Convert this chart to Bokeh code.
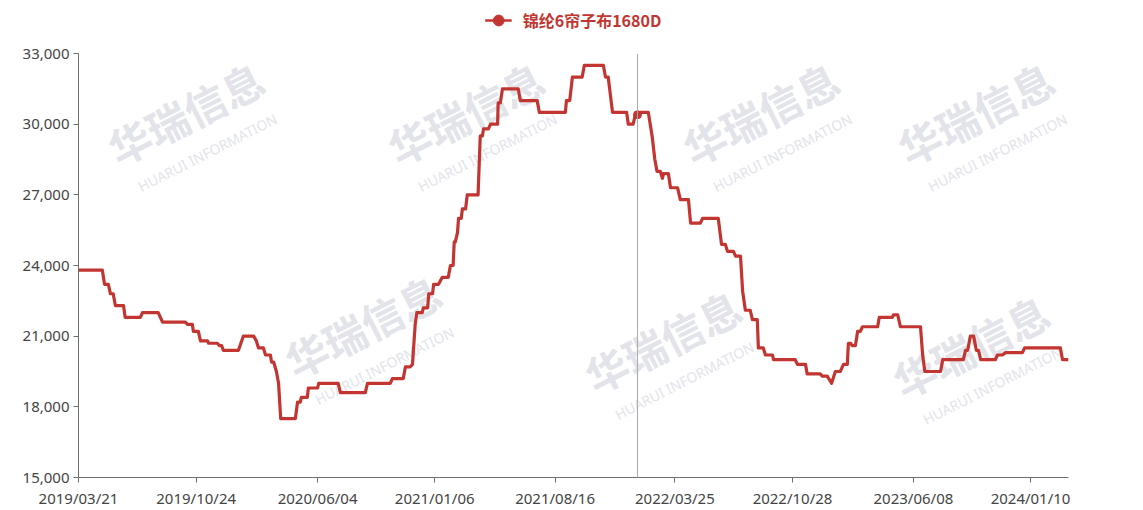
import pandas as pd
from bokeh.plotting import figure
from bokeh.layouts import column
from bokeh.models import (ColumnDataSource, Range1d, FixedTicker, DatetimeTickFormatter,
                          NumeralTickFormatter, Span, Legend, LegendItem, Label)
from bokeh.embed import file_html
from bokeh.resources import INLINE

series_name = "锦纶6帘子布1680D"

dates = [
    "2019-03-21", "2019-05-04", "2019-05-08", "2019-05-15", "2019-05-19", "2019-05-24",
    "2019-05-28", "2019-06-12", "2019-06-15", "2019-07-13", "2019-07-17", "2019-08-15",
    "2019-08-23", "2019-10-04", "2019-10-08", "2019-10-17", "2019-10-19", "2019-10-28",
    "2019-11-01", "2019-11-14", "2019-11-16", "2019-12-02", "2019-12-06", "2019-12-10",
    "2019-12-13", "2020-01-10", "2020-01-19", "2020-02-07", "2020-02-12", "2020-02-16",
    "2020-02-25", "2020-02-29", "2020-03-09", "2020-03-11", "2020-03-15", "2020-03-20",
    "2020-03-24", "2020-03-28", "2020-04-24", "2020-04-28", "2020-05-03", "2020-05-05",
    "2020-05-16", "2020-05-18", "2020-06-04", "2020-06-06", "2020-07-12", "2020-07-16",
    "2020-08-31", "2020-09-04", "2020-10-16", "2020-10-20", "2020-11-09", "2020-11-13",
    "2020-11-22", "2020-11-26", "2020-12-01", "2020-12-04", "2020-12-14", "2020-12-16",
    "2020-12-24", "2020-12-26", "2021-01-02", "2021-01-04", "2021-01-13", "2021-01-20",
    "2021-01-31", "2021-02-04", "2021-02-09", "2021-02-11", "2021-02-13", "2021-02-17",
    "2021-02-19", "2021-02-24", "2021-02-26", "2021-03-04", "2021-03-07", "2021-03-27",
    "2021-03-31", "2021-04-04", "2021-04-06", "2021-04-15", "2021-04-19", "2021-05-02",
    "2021-05-03", "2021-05-07", "2021-05-11", "2021-06-09", "2021-06-13", "2021-07-14",
    "2021-07-18", "2021-09-04", "2021-09-06", "2021-09-12", "2021-09-17", "2021-10-05",
    "2021-10-09", "2021-11-13", "2021-11-17", "2021-11-22", "2021-11-30", "2021-12-26",
    "2021-12-29", "2022-01-07", "2022-01-11", "2022-01-20", "2022-02-04", "2022-02-11",
    "2022-02-16", "2022-02-20", "2022-02-26", "2022-03-02", "2022-03-04", "2022-03-13",
    "2022-03-17", "2022-03-30", "2022-04-02", "2022-04-04", "2022-04-19", "2022-04-23",
    "2022-05-11", "2022-05-15", "2022-06-13", "2022-06-19", "2022-06-26", "2022-06-30",
    "2022-07-11", "2022-07-15", "2022-07-24", "2022-07-28", "2022-08-02", "2022-08-11",
    "2022-08-15", "2022-08-24", "2022-08-26", "2022-09-04", "2022-09-08", "2022-09-21",
    "2022-09-23", "2022-11-02", "2022-11-06", "2022-11-21", "2022-11-24", "2022-12-18",
    "2022-12-22", "2022-12-31", "2023-01-08", "2023-01-15", "2023-01-24", "2023-01-30",
    "2023-02-06", "2023-02-08", "2023-02-12", "2023-02-15", "2023-02-21", "2023-02-25",
    "2023-03-02", "2023-03-06", "2023-04-03", "2023-04-06", "2023-04-30", "2023-05-02",
    "2023-05-10", "2023-05-15", "2023-06-21", "2023-06-25", "2023-06-29", "2023-07-28",
    "2023-08-01", "2023-09-08", "2023-09-12", "2023-09-16", "2023-09-21", "2023-09-27",
    "2023-10-02", "2023-10-06", "2023-10-10", "2023-11-06", "2023-11-10", "2023-11-19",
    "2023-11-25", "2023-12-26", "2023-12-30", "2024-03-05", "2024-03-09", "2024-03-20",
]

prices = [
    23800, 23800, 23200, 23200, 22800, 22800,
    22300, 22300, 21800, 21800, 22000, 22000,
    21600, 21600, 21500, 21500, 21200, 21200,
    20800, 20800, 20700, 20700, 20600, 20600,
    20400, 20400, 21000, 21000, 20800, 20500,
    20500, 20200, 20200, 19900, 19900, 19500,
    19000, 17500, 17500, 18200, 18200, 18400,
    18400, 18800, 18800, 19000, 19000, 18600,
    18600, 19000, 19000, 19200, 19200, 19700,
    19700, 19800, 21500, 22000, 22000, 22200,
    22200, 22800, 22800, 23200, 23200, 23500,
    23500, 24000, 24000, 25000, 25000, 25400,
    26000, 26000, 26400, 26400, 27000, 27000,
    29500, 29500, 29800, 29800, 30000, 30000,
    30900, 30900, 31500, 31500, 31000, 31000,
    30500, 30500, 31000, 31000, 32000, 32000,
    32500, 32500, 32000, 32000, 30500, 30500,
    30000, 30000, 30400, 30500, 30500, 29500,
    28500, 28000, 28000, 27700, 27900, 27900,
    27300, 27300, 27000, 26800, 26800, 25800,
    25800, 26000, 26000, 24900, 24900, 24600,
    24600, 24400, 24400, 22900, 22100, 22100,
    21700, 21700, 20500, 20500, 20200, 20200,
    20000, 20000, 19800, 19800, 19400, 19400,
    19300, 19300, 19000, 19500, 19500, 19800,
    19800, 20700, 20700, 20600, 20600, 21200,
    21200, 21400, 21400, 21800, 21800, 21900,
    21900, 21400, 21400, 20200, 19500, 19500,
    20000, 20000, 20400, 20400, 21000, 21000,
    20400, 20400, 20000, 20000, 20200, 20200,
    20300, 20300, 20500, 20500, 20000, 20000,
]

tick_dates = ["2019-03-21", "2019-10-24", "2020-06-04", "2021-01-06", "2021-08-16",
              "2022-03-25", "2022-10-28", "2023-06-08", "2024-01-10"]
y_ticks = [15000, 18000, 21000, 24000, 27000, 30000, 33000]

pointer_date = "2022-01-15"
pointer_value = 30400

# background watermark text (decoration, page-pixel centres)
wm_big = "华瑞信息"
wm_small = "HUARUI INFORMATION"
wm_pos = [(185, 112), (465, 112), (760, 112), (975, 112),
          (362, 325), (662, 340), (970, 345)]

RED = "#c23531"
AXIS = "#6e6e6e"
LABEL = "#444444"
FONT = "Noto Sans"
WM = "#e2e4ea"

x = pd.to_datetime(dates)
src = ColumnDataSource(dict(x=x, y=prices))

def ms(d):
    return pd.Timestamp(d).value / 1e6

W = 1140
LEG_H = 40
TOTAL_H = 510
FRAME_L, FRAME_B = 78, 477

# ---- legend strip ----
lg = figure(width=W, height=LEG_H, output_backend="svg", toolbar_location=None,
            x_range=Range1d(0, 1), y_range=Range1d(0, 1),
            min_border_left=0, min_border_right=0, min_border_top=0, min_border_bottom=0)
lg.axis.visible = False
lg.grid.visible = False
lg.outline_line_color = None
lg_src = ColumnDataSource(dict(x=[0.5], y=[0.5]))
lg_line = lg.line("x", "y", source=lg_src, line_color=RED, line_width=2.5)
lg_dot = lg.scatter("x", "y", source=lg_src, size=13, fill_color=RED, line_color=RED)
lg_line.visible = False
lg_dot.visible = False
legend = Legend(items=[LegendItem(label=series_name, renderers=[lg_line, lg_dot])],
                location="center", orientation="horizontal",
                label_text_color=RED, label_text_font="Noto Sans CJK SC",
                label_text_font_style="bold", label_text_font_size="16px",
                glyph_width=27, glyph_height=30, label_height=16, label_standoff=11,
                background_fill_alpha=0, border_line_alpha=0,
                padding=0, margin=0)
lg.add_layout(legend, "center")

# ---- main chart ----
p = figure(width=W, height=TOTAL_H - LEG_H, x_axis_type="datetime",
           output_backend="svg", toolbar_location=None,
           x_range=Range1d(ms(dates[0]), ms(dates[-1])),
           y_range=Range1d(15000, 33000),
           min_border_left=FRAME_L, min_border_right=72,
           min_border_top=53 - LEG_H, min_border_bottom=TOTAL_H - FRAME_B)
p.outline_line_color = None
p.background_fill_color = "white"
p.border_fill_color = "white"
p.xgrid.visible = False
p.ygrid.visible = False

for (cx, cy) in wm_pos:
    sx, sy = cx - FRAME_L, FRAME_B - cy
    p.add_layout(Label(x=sx, y=sy, x_units="screen", y_units="screen", text=wm_big,
                       angle=0.47, text_align="center", text_baseline="middle",
                       text_font="Noto Sans CJK SC",
                       text_font_style="bold", text_font_size="42px",
                       text_color=WM, level="underlay"))
    p.add_layout(Label(x=sx + 22, y=sy - 40, x_units="screen", y_units="screen", text=wm_small,
                       angle=0.47, text_align="center", text_baseline="middle",
                       text_font="Noto Sans", text_font_size="14px",
                       text_color=WM, level="underlay"))

line = p.line("x", "y", source=src, line_color=RED, line_width=3.2, line_join="round")

span = Span(location=ms(pointer_date), dimension="height", line_color="#aaaaaa", line_width=1)
p.add_layout(span)

psrc = ColumnDataSource(dict(x=[pd.Timestamp(pointer_date)], y=[pointer_value]))
p.scatter("x", "y", source=psrc, size=8, fill_color=RED, line_color=RED)

xa = p.xaxis[0]
xa.ticker = FixedTicker(ticks=[ms(d) for d in tick_dates])
fmt = "%Y/%m/%d"
xa.formatter = DatetimeTickFormatter(milliseconds=fmt, seconds=fmt, minsec=fmt, minutes=fmt,
                                     hourmin=fmt, hours=fmt, days=fmt, months=fmt, years=fmt)
ya = p.yaxis[0]
ya.ticker = FixedTicker(ticks=y_ticks)
ya.formatter = NumeralTickFormatter(format="0,0")
for ax in (xa, ya):
    ax.axis_line_color = AXIS
    ax.axis_line_width = 1
    ax.major_tick_line_color = AXIS
    ax.major_tick_in = 0
    ax.major_tick_out = 5
    ax.minor_tick_line_color = None
    ax.major_label_text_color = LABEL
    ax.major_label_text_font = FONT
    ax.major_label_text_font_size = "15px"
xa.major_label_standoff = 5
ya.major_label_standoff = 4

layout = column(lg, p, spacing=0)
open("out.html", "w").write(file_html(layout, INLINE))
